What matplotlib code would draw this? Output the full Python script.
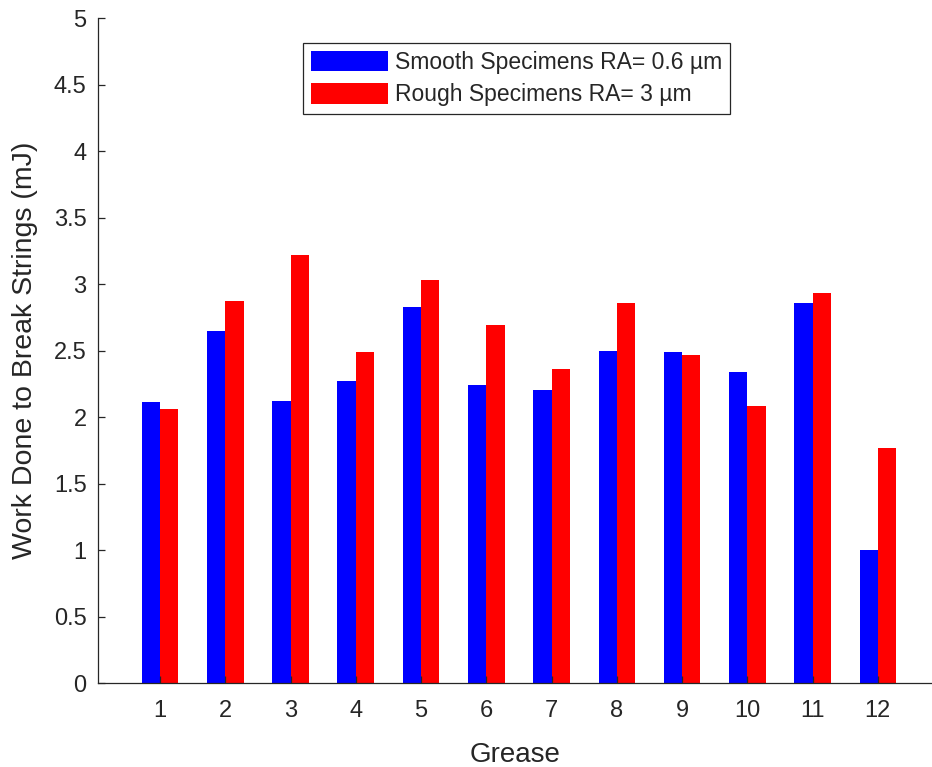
import numpy as np
import matplotlib.pyplot as plt
from matplotlib.ticker import FuncFormatter

plt.rcParams['font.family'] = ['Liberation Sans', 'DejaVu Sans']

grease = [1, 2, 3, 4, 5, 6, 7, 8, 9, 10, 11, 12]
smooth = [2.11, 2.65, 2.12, 2.27, 2.83, 2.24, 2.20, 2.50, 2.49, 2.34, 2.86, 1.00]
rough = [2.06, 2.87, 3.22, 2.49, 3.03, 2.69, 2.36, 2.86, 2.47, 2.08, 2.93, 1.77]

txt = '#262626'
fig = plt.figure(figsize=(9.32, 7.67), dpi=100)
ax = fig.add_axes([0.1048, 0.1095, 0.8952, 0.867])

x = np.array(grease)
w = 0.28
ax.bar(x - w / 2, smooth, w, color='#0000ff', label='Smooth Specimens RA= 0.6 µm')
ax.bar(x + w / 2, rough, w, color='#ff0000', label='Rough Specimens RA= 3 µm')

ax.set_xlim(0.045, 12.83)
ax.set_ylim(0, 5)
ax.set_xticks(x)
ax.set_yticks(np.arange(0, 5.01, 0.5))
ax.yaxis.set_major_formatter(FuncFormatter(lambda v, p: '%g' % v))

for s in ['top', 'right']:
    ax.spines[s].set_visible(False)
for s in ['left', 'bottom']:
    ax.spines[s].set_color(txt)
    ax.spines[s].set_linewidth(0.9)
ax.tick_params(direction='in', length=5, width=0.9, colors=txt, labelsize=17)
ax.tick_params(axis='y', pad=8)
ax.tick_params(axis='x', pad=12)

ax.set_xlabel('Grease', fontsize=20, color=txt)
ax.set_ylabel('Work Done to Break Strings (mJ)', fontsize=20.5, color=txt)
ax.xaxis.set_label_coords(0.5, -0.088)
ax.yaxis.set_label_coords(-0.071, 0.5)

leg = ax.legend(loc='upper left', bbox_to_anchor=(303 / 932, 1 - 43 / 767),
                bbox_transform=fig.transFigure, fontsize=16.5, frameon=True,
                fancybox=False, framealpha=1, edgecolor='#262626',
                handlelength=3.4, handleheight=1.0, handletextpad=0.3,
                labelspacing=0.42, borderpad=0.33, borderaxespad=0)
leg.get_frame().set_linewidth(0.9)
for t in leg.get_texts():
    t.set_color(txt)

fig.savefig('out.png', dpi=100)
